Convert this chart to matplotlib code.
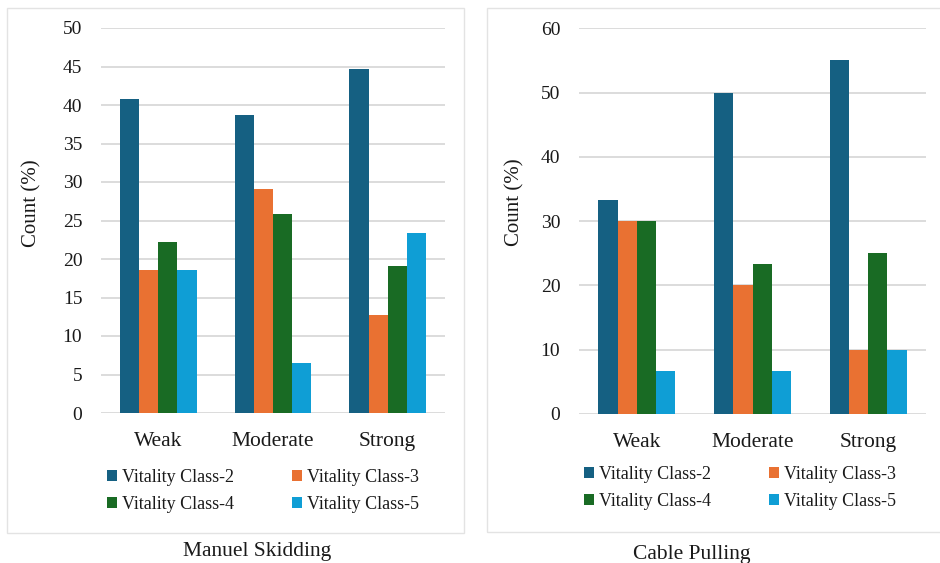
import numpy as np
import matplotlib
matplotlib.use('Agg')
import matplotlib.pyplot as plt
from matplotlib.patches import Rectangle

categories = ['Weak', 'Moderate', 'Strong']
classes = ['Vitality Class-2', 'Vitality Class-3', 'Vitality Class-4', 'Vitality Class-5']
colors = ['#156082', '#E97132', '#196B24', '#0F9ED5']

# Manuel Skidding (%)
skid_c2 = [40.74, 38.71, 44.68]
skid_c3 = [18.52, 29.03, 12.77]
skid_c4 = [22.22, 25.81, 19.15]
skid_c5 = [18.52, 6.45, 23.40]

# Cable Pulling (%)
cable_c2 = [33.33, 50.0, 55.0]
cable_c3 = [30.0, 20.0, 10.0]
cable_c4 = [30.0, 23.33, 25.0]
cable_c5 = [6.67, 6.67, 10.0]

plt.rcParams['font.family'] = ['Liberation Serif', 'DejaVu Serif']
txt = '#1a1a1a'
W, H = 940, 563

fig = plt.figure(figsize=(9.4, 5.63), dpi=100)


def px(x0, y0, x1, y1):
    # pixel box (top-left origin) -> figure fraction rect
    return [x0 / W, (H - y1) / H, (x1 - x0) / W, (y1 - y0) / H]


def panel(rect, series, ymax, step, leg_xy, title, title_xy, ylab_xy):
    ax = fig.add_axes(rect)
    x = np.arange(len(categories))
    w = 1 / 6
    bars = []
    for i, vals in enumerate(series):
        b = ax.bar(x + (i - 1.5) * w, vals, w, color=colors[i], label=classes[i], zorder=3)
        bars.append(b)
    ax.set_xlim(-0.5, 2.5)
    ax.set_ylim(0, ymax)
    ax.set_yticks(np.arange(0, ymax + 1, step))
    ax.set_xticks(x)
    ax.set_xticklabels(categories)
    ax.grid(axis='y', color='#d9d9d9', lw=1.3, zorder=0)
    for s in ax.spines.values():
        s.set_visible(False)
    ax.tick_params(axis='y', length=0, pad=13.5, labelsize=14, labelcolor=txt)
    ax.tick_params(axis='x', length=0, pad=23.5, labelsize=15.5, labelcolor=txt)
    for lb in ax.get_xticklabels():
        lb.set_va('baseline')
    fig.text(ylab_xy[0] / W, 1 - ylab_xy[1] / H, 'Count (%)', rotation=90,
             ha='center', va='center', fontsize=15, color=txt)
    order = [0, 2, 1, 3]
    ax.legend([bars[k] for k in order], [classes[k] for k in order], ncol=2,
              loc='upper left', bbox_to_anchor=(leg_xy[0] / W, 1 - leg_xy[1] / H),
              bbox_transform=fig.transFigure, frameon=False, fontsize=13,
              handlelength=0.55, handleheight=0.55, handletextpad=0.3,
              columnspacing=3.2, labelspacing=0.57, borderpad=0, borderaxespad=0,
              labelcolor=txt)
    fig.text(title_xy[0] / W, 1 - title_xy[1] / H, title, ha='center', va='baseline',
             fontsize=15.5, color=txt)
    return ax


panel(px(101, 28, 445, 413), [skid_c2, skid_c3, skid_c4, skid_c5], 50, 5,
      (107, 469), 'Manuel Skidding', (257, 556), (32, 203))
panel(px(579, 28.3, 926, 414), [cable_c2, cable_c3, cable_c4, cable_c5], 60, 10,
      (584, 466), 'Cable Pulling', (692, 559), (515, 202))

for r in [px(7, 8, 464, 533), px(487, 8, 946, 532)]:
    fig.patches.append(Rectangle((r[0], r[1]), r[2], r[3], transform=fig.transFigure,
                                 fill=False, ec='#e3e3e3', lw=1))

fig.savefig('out.png', dpi=100, facecolor='white')
